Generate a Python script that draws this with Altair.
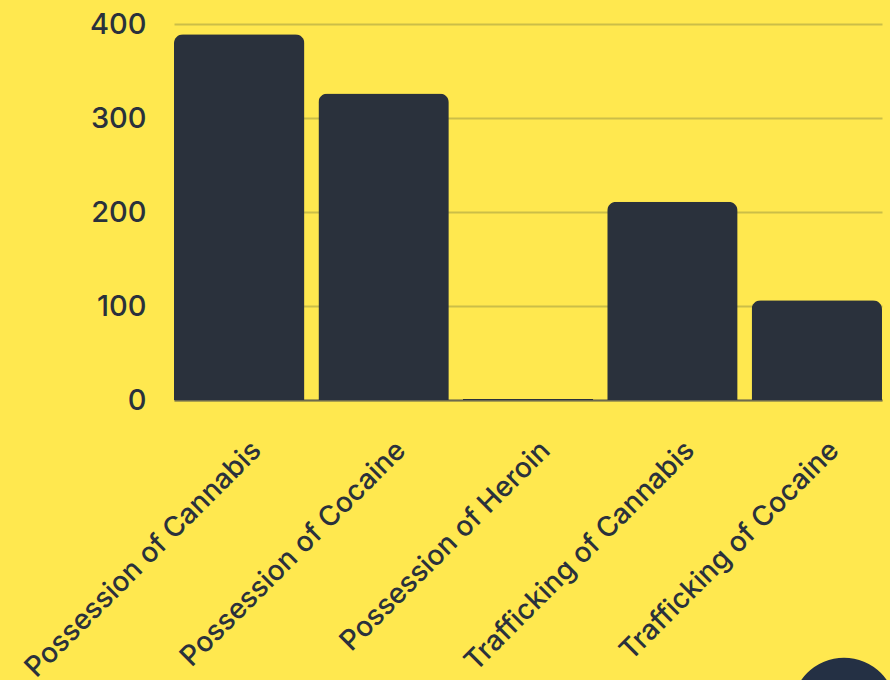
import altair as alt
import pandas as pd

categories = ["Possession of Cannabis", "Possession of Cocaine", "Possession of Heroin",
              "Trafficking of Cannabis", "Trafficking of Cocaine"]
values = [389, 326, 1, 211, 106]
y_ticks = [0, 100, 200, 300, 400]

df = pd.DataFrame({"offence": categories, "count": values})

BG = "#FFE84F"
INK = "#2A313C"
FONT = "Inter"

bars = alt.Chart(df).mark_bar(
    color=INK, cornerRadiusTopLeft=9, cornerRadiusTopRight=9
).encode(
    x=alt.X("offence:N", sort=categories, title=None,
            scale=alt.Scale(paddingInner=0.097, paddingOuter=0),
            axis=alt.Axis(labelAngle=-45, labelFontSize=28, labelColor=INK,
                          labelFont=FONT, labelFontWeight=500, ticks=False,
                          domainColor="#6E6A4E", domainWidth=2, labelPadding=36,
                          labelOffset=8, labelLimit=500)),
    y=alt.Y("count:Q", title=None,
            scale=alt.Scale(domain=[0, 400], nice=False),
            axis=alt.Axis(values=y_ticks, labelFontSize=29, labelColor=INK,
                          labelFont=FONT, labelFontWeight=500, ticks=False,
                          domain=False, gridColor="#CBBE48", gridWidth=2,
                          labelPadding=28)),
)

circle_df = pd.DataFrame({"k": ["deco"]})
circle = alt.Chart(circle_df).mark_circle(color="#243044", opacity=1, size=10900).encode(
    x=alt.value(670), y=alt.value(686)
)

chart = alt.layer(bars, circle).properties(
    width=708, height=376,
    background=BG,
    padding={"left": 174, "top": 24, "right": 8, "bottom": 280},
    autosize=alt.AutoSizeParams(type="none"),
).configure_view(stroke=None).configure_axis(gridOpacity=1)

chart.save("out.html", embed_options={"renderer": "svg", "actions": False})
